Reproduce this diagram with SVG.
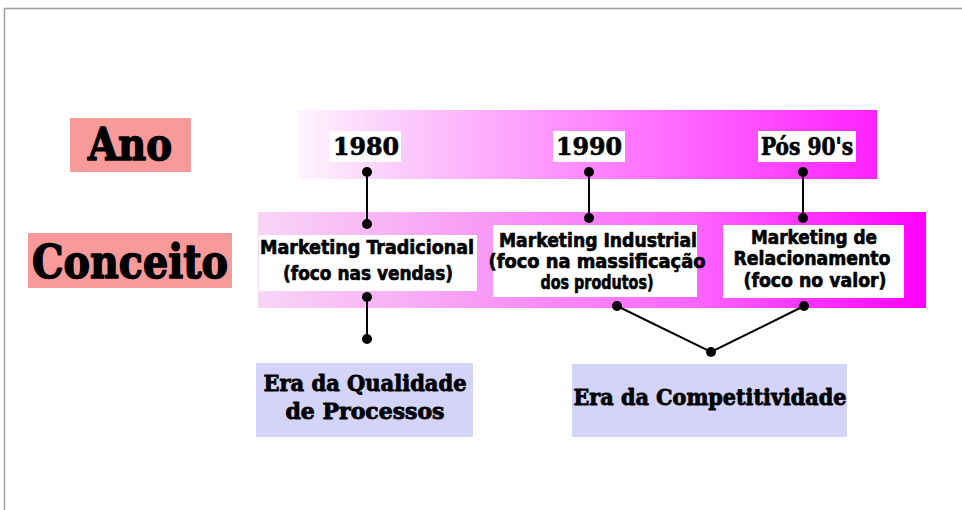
<svg xmlns="http://www.w3.org/2000/svg" width="962" height="510" viewBox="0 0 962 510">
<defs>
<linearGradient id="gTop" x1="0" y1="0" x2="1" y2="0">
<stop offset="0" stop-color="#fff4ff"/>
<stop offset="0.15" stop-color="#fbd2fb"/>
<stop offset="0.5" stop-color="#ff88ff"/>
<stop offset="1" stop-color="#ff22ff"/>
</linearGradient>
<linearGradient id="gCon" x1="0" y1="0" x2="1" y2="0">
<stop offset="0" stop-color="#f8d6f6"/>
<stop offset="0.3" stop-color="#f8a0f4"/>
<stop offset="0.65" stop-color="#ff66ff"/>
<stop offset="1" stop-color="#ff00ff"/>
</linearGradient>
<style>
.lbl{fill:#f99a9a}
.era{fill:#d4d4fa}
.wb{fill:#ffffff}
.big{font-family:"DejaVu Serif","Liberation Serif",serif;font-weight:bold;fill:#000;stroke:#000;stroke-width:1.6;stroke-linejoin:round}
.yr{font-family:"DejaVu Serif","Liberation Serif",serif;font-weight:bold;font-size:24px;fill:#000;stroke:#000;stroke-width:0.7;stroke-linejoin:round}
.mk{font-family:"DejaVu Sans Condensed","DejaVu Sans","Liberation Sans",sans-serif;font-weight:bold;font-size:19px;fill:#000;stroke:#000;stroke-width:0.6;stroke-linejoin:round}
.er{font-family:"DejaVu Serif Condensed","DejaVu Serif","Liberation Serif",serif;font-weight:bold;font-size:22px;fill:#000;stroke:#000;stroke-width:0.8;stroke-linejoin:round}
.ln{stroke:#000;stroke-width:2;fill:none}
.dot{fill:#000}
</style>
</defs>
<rect x="0" y="0" width="962" height="510" fill="#ffffff"/>
<path d="M4.5 510 V8.5 H962" fill="none" stroke="#a0a0a0" stroke-width="1.5"/>

<g id="bars">
<rect x="298" y="110" width="579" height="69" fill="url(#gTop)"/>
<rect x="258" y="212" width="668" height="96" fill="url(#gCon)"/>
</g>

<g id="ano">
<rect class="lbl" x="70" y="118" width="121" height="54"/>
<text class="big" x="130" y="160" font-size="45" text-anchor="middle" textLength="84" lengthAdjust="spacingAndGlyphs">Ano</text>
</g>
<g id="conceito">
<rect class="lbl" x="28" y="233" width="204" height="55"/>
<text class="big" x="130" y="278" font-size="47" text-anchor="middle" textLength="196" lengthAdjust="spacingAndGlyphs">Conceito</text>
</g>

<g id="y1980">
<rect class="wb" x="329" y="131" width="72" height="31"/>
<text class="yr" x="366" y="155" text-anchor="middle" textLength="66" lengthAdjust="spacingAndGlyphs">1980</text>
</g>
<g id="y1990">
<rect class="wb" x="553" y="131" width="72" height="31"/>
<text class="yr" x="589" y="155" text-anchor="middle" textLength="66" lengthAdjust="spacingAndGlyphs">1990</text>
</g>
<g id="ypos">
<rect class="wb" x="758" y="131" width="98" height="31"/>
<text class="yr" x="807" y="155" text-anchor="middle" textLength="92" lengthAdjust="spacingAndGlyphs">Pós 90's</text>
</g>

<g id="connectors">
<line class="ln" x1="367" y1="172" x2="367" y2="224"/>
<line class="ln" x1="589" y1="172" x2="589" y2="218"/>
<line class="ln" x1="803" y1="172" x2="803" y2="218"/>
<line class="ln" x1="367" y1="297" x2="367" y2="339"/>
<polyline class="ln" points="617,306 711,352 804,306"/>
<circle class="dot" cx="367" cy="172" r="5"/>
<circle class="dot" cx="367" cy="224" r="5"/>
<circle class="dot" cx="589" cy="172" r="5"/>
<circle class="dot" cx="589" cy="218" r="5"/>
<circle class="dot" cx="803" cy="172" r="5"/>
<circle class="dot" cx="803" cy="218" r="5"/>
<circle class="dot" cx="367" cy="297" r="5"/>
<circle class="dot" cx="367" cy="339" r="5"/>
<circle class="dot" cx="617" cy="306" r="5"/>
<circle class="dot" cx="804" cy="306" r="5"/>
<circle class="dot" cx="711" cy="352" r="5"/>
</g>

<g id="mkTrad">
<rect class="wb" x="259" y="235" width="218" height="56"/>
<text class="mk" x="367" y="254" text-anchor="middle" textLength="214" lengthAdjust="spacingAndGlyphs">Marketing Tradicional</text>
<text class="mk" x="368" y="280" text-anchor="middle" textLength="170" lengthAdjust="spacingAndGlyphs">(foco nas vendas)</text>
</g>
<g id="mkInd">
<rect class="wb" x="493" y="225" width="204" height="72"/>
<text class="mk" x="598" y="247" text-anchor="middle" textLength="198" lengthAdjust="spacingAndGlyphs">Marketing Industrial</text>
<text class="mk" x="597" y="268" text-anchor="middle" textLength="217" lengthAdjust="spacingAndGlyphs">(foco na massificação</text>
<text class="mk" x="597" y="289" text-anchor="middle" textLength="113" lengthAdjust="spacingAndGlyphs">dos produtos)</text>
</g>
<g id="mkRel">
<rect class="wb" x="723" y="225" width="181" height="73"/>
<text class="mk" x="814" y="244" text-anchor="middle" textLength="126" lengthAdjust="spacingAndGlyphs">Marketing de</text>
<text class="mk" x="812" y="265" text-anchor="middle" textLength="157" lengthAdjust="spacingAndGlyphs">Relacionamento</text>
<text class="mk" x="815" y="287" text-anchor="middle" textLength="143" lengthAdjust="spacingAndGlyphs">(foco no valor)</text>
</g>

<g id="eraQual">
<rect class="era" x="256" y="363" width="217" height="74"/>
<text class="er" x="365" y="391" text-anchor="middle" textLength="203" lengthAdjust="spacingAndGlyphs">Era da Qualidade</text>
<text class="er" x="365" y="419" text-anchor="middle" textLength="159" lengthAdjust="spacingAndGlyphs">de Processos</text>
</g>
<g id="eraComp">
<rect class="era" x="572" y="364" width="275" height="73"/>
<text class="er" x="710" y="405" text-anchor="middle" textLength="273" lengthAdjust="spacingAndGlyphs">Era da Competitividade</text>
</g>
</svg>
